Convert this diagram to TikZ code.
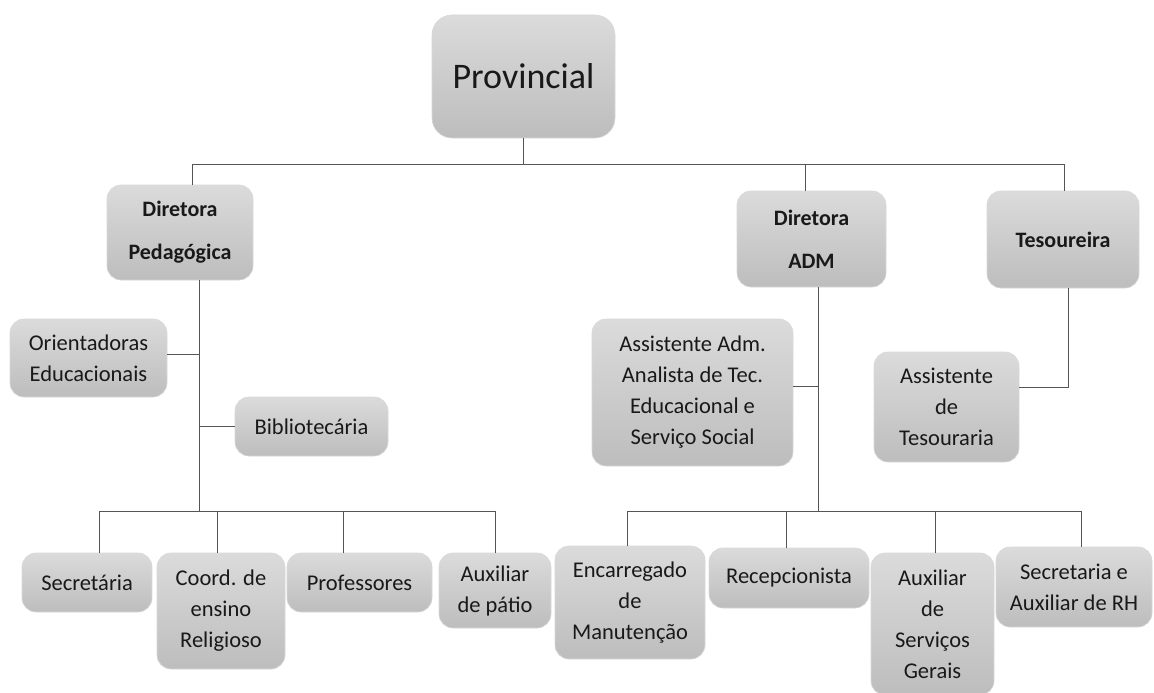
\documentclass[tikz,border=0pt]{standalone}
\usepackage{fontspec}
\setmainfont{Carlito}
\usepackage{tikz}

\definecolor{caixatopo}{RGB}{219,219,219}
\definecolor{caixabase}{RGB}{189,189,189}
\definecolor{linha}{RGB}{85,85,85}

\begin{document}
\begin{tikzpicture}[x=1pt,y=-1pt,
        cargo/.style={rounded corners=14pt, top color=caixatopo, bottom color=caixabase,
            draw=gray!30, line width=0.6pt, inner sep=0pt, align=center, text=black!90,
            font=\fontsize{22.5}{31}\selectfont},
        chefe/.style={cargo, font=\bfseries\fontsize{22}{43}\selectfont},
        liga/.style={draw=linha, line width=0.9pt}]

            \useasboundingbox[fill=white] (0,0) rectangle (1154,693);

            % topo
            \node[cargo, minimum width=183pt, minimum height=123pt, rounded corners=20pt,
                font=\fontsize{36}{40}\selectfont] (prov) at (523.5,76.5) {Provincial};
            \node[chefe, minimum width=146pt, minimum height=95pt] (dped) at (180,232.5) {Diretora\\Pedagógica};
            \node[chefe, minimum width=149pt, minimum height=96pt] (dadm) at (811.5,239) {Diretora\\ADM};
            \node[chefe, minimum width=152pt, minimum height=97pt] (tes) at (1063,239.5) {Tesoureira};

            % meio
            \node[cargo, minimum width=157pt, minimum height=78pt] (ori) at (88.5,358) {Orientadoras\\Educacionais};
            \node[cargo, minimum width=153pt, minimum height=59pt] (bib) at (311.5,426.5) {Bibliotecária};
            \node[cargo, minimum width=201pt, minimum height=147pt] (asadm) at (692.5,392.5)
                {Assistente Adm.\\Analista de Tec.\\Educacional e\\Serviço Social};
            \node[cargo, minimum width=145pt, minimum height=110pt] (astes) at (946.5,407) {Assistente\\de\\Tesouraria};

            % base
            \node[cargo, minimum width=130pt, minimum height=59pt] (sec) at (87,582.5) {Secretária};
            \node[cargo, minimum width=128pt, minimum height=116pt] (coord) at (221,611) {Coord. de\\ensino\\Religioso};
            \node[cargo, minimum width=145pt, minimum height=59pt] (prof) at (359.5,582.5) {Professores};
            \node[cargo, minimum width=112pt, minimum height=75pt] (aux) at (495,590.5) {Auxiliar\\de pátio};
            \node[cargo, minimum width=150pt, minimum height=113pt] (enc) at (630,602.5) {Encarregado\\de\\Manutenção};
            \node[cargo, minimum width=160pt, minimum height=60pt] (rec) at (789,578) {Recepcionista};
            \node[cargo, minimum width=123pt, minimum height=142pt] (asg) at (932.5,624) {Auxiliar\\de\\Serviços\\Gerais};
            \node[cargo, minimum width=156pt, minimum height=80pt] (rh) at (1074,587) {Secretaria e\\Auxiliar de RH};

            \coordinate (barra) at (0,164);
            \coordinate (barrabase) at (0,511);

            % ligacoes do topo
            \draw[liga] (prov.south) -- (prov.south |- barra);
            \draw[liga] ([xshift=12pt]dped.north) |- ([xshift=1pt]tes.north |- barra) -- ([xshift=1pt]tes.north);
            \draw[liga] ([xshift=-6.5pt]dadm.north) -- ([xshift=-6.5pt]dadm.north |- barra);

            % lado pedagogico
            \draw[liga] ([xshift=19pt]dped.south) coordinate (eixoped) -- (eixoped |- barrabase);
            \draw[liga] ([yshift=4pt]ori.east) -- ([yshift=4pt]ori.east -| eixoped);
            \draw[liga] (bib.west) -- (bib.west -| eixoped);
            \draw[liga] ([xshift=12pt]sec.north) |- (aux.north |- barrabase) -- (aux.north);
            \draw[liga] ([xshift=-4pt]coord.north) -- ([xshift=-4pt]coord.north |- barrabase);
            \draw[liga] ([xshift=-16.5pt]prof.north) -- ([xshift=-16.5pt]prof.north |- barrabase);

            % lado administrativo
            \draw[liga] ([xshift=6.5pt]dadm.south) coordinate (eixoadm) -- (eixoadm |- barrabase);
            \draw[liga] ([yshift=6.5pt]asadm.east) -- ([yshift=6.5pt]asadm.east -| eixoadm);
            \draw[liga] ([xshift=-3pt]enc.north) |- ([xshift=7pt]rh.north |- barrabase) -- ([xshift=7pt]rh.north);
            \draw[liga] ([xshift=-3pt]rec.north) -- ([xshift=-3pt]rec.north |- barrabase);
            \draw[liga] ([xshift=2.5pt]asg.north) -- ([xshift=2.5pt]asg.north |- barrabase);

            % tesouraria
            \draw[liga] ([xshift=5pt]tes.south) |- ([yshift=20pt]astes.east);

        \end{tikzpicture}
\end{document}
